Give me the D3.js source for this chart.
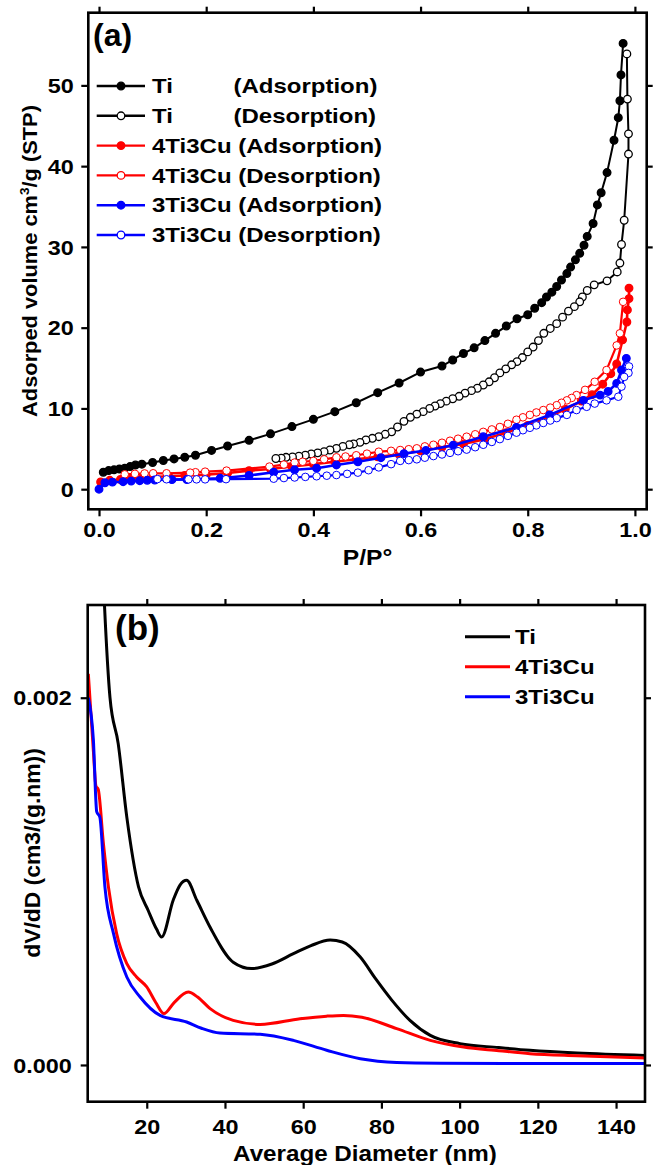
<!DOCTYPE html>
<html><head><meta charset="utf-8">
<script src="https://cdn.jsdelivr.net/npm/d3@7"></script>
<style>
html,body{margin:0;padding:0;background:#fff;}
text{font-family:"Liberation Sans",Arial,sans-serif;font-weight:bold;fill:#000;}
</style></head>
<body>
<svg id="chart" width="654" height="1165"></svg>
<script>
// ---------- Panel (a) data: N2 isotherms ----------
const tiAdsP = [0.008,0.018,0.028,0.038,0.048,0.058,0.068,0.08,0.10,0.12,0.14,0.16,0.18,0.21,0.24,0.28,0.32,0.36,0.40,0.44,0.48,0.52,0.56,0.60,0.64,0.66,0.68,0.70,0.72,0.74,0.76,0.78,0.80,0.813,0.826,0.835,0.845,0.854,0.863,0.873,0.88,0.889,0.897,0.905,0.911,0.922,0.93,0.937,0.948,0.961,0.969,0.972,0.974,0.978];
const tiAdsV = [2.1,2.3,2.4,2.5,2.6,2.8,3.0,3.1,3.3,3.55,3.75,3.95,4.2,4.8,5.35,6.05,6.85,7.75,8.65,9.6,10.7,11.95,13.15,14.5,15.25,16.0,16.8,17.5,18.4,19.3,20.2,21.1,21.6,22.4,23.1,23.8,24.4,25.1,25.9,26.7,27.5,28.4,29.2,30.2,31.3,32.9,35.2,36.7,39.2,43.2,46.0,48.1,51.3,55.2];
const tiDesP = [0.985,0.986,0.988,0.988,0.98,0.975,0.972,0.967,0.948,0.924,0.911,0.902,0.897,0.887,0.876,0.865,0.854,0.842,0.83,0.82,0.81,0.80,0.79,0.78,0.77,0.759,0.748,0.738,0.728,0.717,0.706,0.695,0.683,0.672,0.66,0.648,0.637,0.627,0.617,0.605,0.593,0.581,0.569,0.557,0.546,0.534,0.522,0.51,0.498,0.487,0.475,0.467,0.455,0.443,0.431,0.42,0.408,0.396,0.385,0.373,0.361,0.349,0.34,0.33];
const tiDesV = [53.9,48.3,44.0,41.5,33.3,30.3,28.0,26.9,25.8,25.3,24.6,23.8,23.2,22.6,22.05,21.3,20.5,19.9,19.3,18.4,17.6,17.0,16.3,15.8,15.4,14.9,14.4,13.8,13.3,12.9,12.5,12.2,11.9,11.5,11.2,10.9,10.6,10.3,10.0,9.6,9.3,8.9,8.4,7.7,7.1,6.8,6.5,6.3,6.1,5.8,5.6,5.5,5.3,5.06,4.85,4.64,4.5,4.36,4.2,4.1,4.0,3.95,3.85,3.8];
const cu4AdsP = [0.003,0.02,0.04,0.06,0.08,0.10,0.13,0.16,0.20,0.24,0.28,0.32,0.36,0.40,0.44,0.48,0.52,0.56,0.60,0.64,0.68,0.72,0.76,0.80,0.84,0.87,0.90,0.92,0.94,0.955,0.966,0.977,0.985,0.986,0.989,0.989];
const cu4AdsV = [0.9,1.1,1.2,1.3,1.4,1.5,1.6,1.7,1.8,2.0,2.3,2.5,2.8,3.1,3.4,3.7,4.0,4.3,4.75,5.2,5.6,6.2,7.0,7.9,9.0,9.9,10.9,11.7,13.0,14.3,15.5,18.5,20.7,22.2,23.6,24.9];
const cu4DesP = [0.978,0.972,0.966,0.947,0.925,0.907,0.891,0.882,0.873,0.863,0.854,0.842,0.829,0.816,0.804,0.791,0.779,0.763,0.748,0.733,0.717,0.702,0.686,0.67,0.655,0.64,0.624,0.608,0.593,0.578,0.562,0.545,0.522,0.5,0.48,0.46,0.443,0.42,0.4,0.38,0.365,0.345,0.318,0.238,0.198,0.18,0.17,0.126,0.101,0.085,0.067,0.048];
const cu4DesV = [23.2,19.3,17.8,14.75,13.3,12.3,11.65,11.3,11.0,10.7,10.4,10.1,9.8,9.5,9.2,8.9,8.6,8.1,7.7,7.4,7.1,6.8,6.5,6.25,6.0,5.75,5.5,5.3,5.06,4.95,4.85,4.75,4.64,4.4,4.2,4.05,3.95,3.7,3.5,3.4,3.3,3.05,2.8,2.3,2.17,2.1,2.05,1.97,1.97,1.95,1.9,1.84];
const cu3AdsP = [0.0,0.011,0.025,0.045,0.06,0.076,0.09,0.104,0.136,0.164,0.226,0.28,0.326,0.365,0.406,0.443,0.483,0.526,0.569,0.61,0.661,0.717,0.779,0.841,0.904,0.935,0.95,0.966,0.975,0.984];
const cu3AdsV = [0.0,0.8,0.87,0.93,1.0,1.05,1.1,1.14,1.18,1.2,1.35,1.7,2.1,2.4,2.6,3.0,3.4,3.9,4.4,4.8,5.45,6.5,7.66,9.2,11.0,11.65,12.1,13.1,14.75,16.2];
const cu3DesP = [0.989,0.988,0.98,0.975,0.969,0.947,0.925,0.91,0.891,0.873,0.854,0.842,0.829,0.816,0.804,0.791,0.779,0.763,0.748,0.733,0.717,0.702,0.686,0.67,0.655,0.64,0.624,0.608,0.593,0.578,0.562,0.545,0.522,0.503,0.483,0.463,0.443,0.425,0.406,0.385,0.365,0.345,0.326,0.237,0.198,0.182,0.167,0.126,0.109];
const cu3DesV = [15.2,14.4,13.9,12.7,11.45,11.0,10.6,10.2,9.8,9.2,8.8,8.5,8.2,7.9,7.6,7.3,7.0,6.6,6.2,5.85,5.5,5.2,4.9,4.7,4.5,4.3,4.1,3.9,3.7,3.6,3.5,3.1,2.7,2.35,2.05,1.9,1.75,1.67,1.6,1.52,1.45,1.38,1.3,1.24,1.22,1.22,1.22,1.23,1.25];

const aXTicks = [0,0.2,0.4,0.6,0.8,1.0];
const aYTicks = [0,10,20,30,40,50];
const aLegend = [
  {name:"Ti", kind:"(Adsorption)", color:"#000", filled:true},
  {name:"Ti", kind:"(Desorption)", color:"#000", filled:false},
  {name:"4Ti3Cu", kind:"(Adsorption)", color:"#ff0000", filled:true},
  {name:"4Ti3Cu", kind:"(Desorption)", color:"#ff0000", filled:false},
  {name:"3Ti3Cu", kind:"(Adsorption)", color:"#0000ff", filled:true},
  {name:"3Ti3Cu", kind:"(Desorption)", color:"#0000ff", filled:false}
];

// ---------- Panel (b) data: pore size distribution ----------
const tiDiam = [8.4,9.2,10.6,12.7,14.9,17.9,20.4,22.5,23.8,26.8,28.5,30.2,32.8,36.2,42.1,46.8,52,57.5,62,66.9,70,74.6,78.5,82.7,87.3,92.5,100.1,110,118,130,147.5];
const tiDV   = [0.0029,0.0025,0.002,0.00175,0.00135,0.00097,0.00084,0.00074,0.000697,0.0009,0.00098,0.001006,0.000897,0.00075,0.00056,0.000525,0.00055,0.000606,0.00065,0.00068,0.00067,0.000588,0.00047,0.000352,0.000243,0.000161,0.000116,0.000095,0.00008,0.000065,0.000052];
const cu4Diam = [5.06,6.35,7.0,7.6,8.9,10.2,12.3,14.9,17.4,20,22.3,24.4,27,30.6,33,36.2,42.1,49,59.2,66,70.3,75,83.9,92.5,101,110,118,130,147.5];
const cu4DV   = [0.00213,0.00171,0.00152,0.0015,0.00121,0.00097,0.000715,0.000552,0.000479,0.000425,0.00034,0.00028,0.00034,0.000397,0.00037,0.000307,0.000243,0.000221,0.000252,0.000266,0.00027,0.00026,0.000198,0.000134,0.0000975,0.000078,0.0000616,0.00005,0.0000376];
const cu3Diam = [5.06,6.35,7.2,8.0,9.3,11.5,14.9,18.3,23.4,30.2,34,38.7,49,57.5,66,74.6,83.9,95,120,147.5];
const cu3DV   = [0.002,0.00177,0.00138,0.00135,0.00097,0.000715,0.000479,0.00037,0.00027,0.000234,0.0002,0.000174,0.000167,0.000134,0.00008,0.000034,0.000014,0.00001,0.000008,0.000008];

const bXTicks = [20,40,60,80,100,120,140];
const bYTicks = [0,0.002];
const bLegend = [
  {name:"Ti", color:"#000"},
  {name:"4Ti3Cu", color:"#ff0000"},
  {name:"3Ti3Cu", color:"#0000ff"}
];

// ---------- drawing ----------
const svg = d3.select("#chart");
const SX = 1.17;

function frameAndAxes(g, x, y, xt, yt, xfmt, yfmt, opts){
  const [x0,x1] = x.range(), [y0,y1] = y.range();
  const style = sel => {
    sel.select(".domain").remove();
    sel.selectAll(".tick line").attr("stroke","#000").attr("stroke-width",2.2);
  };
  const ax = g.append("g").attr("transform",`translate(0,${y0})`)
    .call(d3.axisBottom(x).tickValues(xt).tickFormat(xfmt).tickSize(7).tickSizeOuter(0)).call(style);
  ax.selectAll("text").attr("y",opts.xLabY).attr("dy",0).attr("font-size",20)
    .attr("font-family","Liberation Sans, Arial, sans-serif").attr("font-weight","bold")
    .attr("transform",`scale(${SX},1)`);
  const ay = g.append("g").attr("transform",`translate(${x0},0)`)
    .call(d3.axisLeft(y).tickValues(yt).tickFormat(yfmt).tickSize(7).tickSizeOuter(0)).call(style);
  ay.selectAll("text").attr("x",-opts.yLabX/SX).attr("dy","0.36em").attr("font-size",20)
    .attr("font-family","Liberation Sans, Arial, sans-serif").attr("font-weight","bold")
    .attr("transform",`scale(${SX},1)`);
  g.append("g").attr("transform",`translate(0,${y1})`)
    .call(d3.axisTop(x).tickValues(xt).tickFormat("").tickSize(6).tickSizeOuter(0)).call(style);
  g.append("g").attr("transform",`translate(${x1},0)`)
    .call(d3.axisRight(y).tickValues(yt).tickFormat("").tickSize(6).tickSizeOuter(0)).call(style);
  g.append("rect").attr("x",x0).attr("y",y1).attr("width",x1-x0).attr("height",y0-y1)
    .attr("fill","none").attr("stroke","#000").attr("stroke-width",2.6);
}

function stext(g, x, y, str, size, anchor, sx){
  return g.append("text").attr("transform",`translate(${x},${y}) scale(${sx},1)`)
    .attr("text-anchor",anchor||"start").attr("font-size",size).text(str);
}

// ===== Panel (a) =====
const ga = svg.append("g");
const xa = d3.scaleLinear().domain([-0.02,1.022]).range([88.3,646.7]);
const ya = d3.scaleLinear().domain([-2.49,59.0]).range([509.3,12.7]);

const seriesA = [
  {P:tiAdsP, V:tiAdsV, color:"#000", filled:true, lw:2, so:1.4},
  {P:tiDesP, V:tiDesV, color:"#000", filled:false, lw:2, so:1.3},
  {P:cu4AdsP, V:cu4AdsV, color:"#ff0000", filled:true, lw:2.6, so:1.3},
  {P:cu4DesP, V:cu4DesV, color:"#ff0000", filled:false, lw:2.2, so:1.0},
  {P:cu3AdsP, V:cu3AdsV, color:"#0000ff", filled:true, lw:2.6, so:1.3},
  {P:cu3DesP, V:cu3DesV, color:"#0000ff", filled:false, lw:2.2, so:1.0}
];
const lineA = d3.line().x(d=>xa(d[0])).y(d=>ya(d[1]));
seriesA.forEach(s=>{
  const pts = s.P.map((p,i)=>[p,s.V[i]]);
  ga.append("path").datum(pts).attr("d",lineA).attr("fill","none")
    .attr("stroke",s.color).attr("stroke-width",s.lw).attr("stroke-linejoin","round");
  ga.selectAll(null).data(pts).join("circle")
    .attr("cx",d=>xa(d[0])).attr("cy",d=>ya(d[1])).attr("r",3.8)
    .attr("fill",s.filled? s.color : "#fff").attr("stroke",s.color).attr("stroke-width",s.so);
});

frameAndAxes(ga, xa, ya, aXTicks, aYTicks, d3.format(".1f"), d3.format("d"), {xLabY:28, yLabX:14.5});

// axis titles
stext(ga, 367.5, 565, "P/P°", 22, "middle", 1.12);
ga.append("text").attr("transform",`translate(37,261) rotate(-90) scale(1.04,1)`)
  .attr("text-anchor","middle").attr("font-size",21)
  .call(t=>{
    t.append("tspan").text("Adsorped volume cm");
    t.append("tspan").attr("font-size",13).attr("dy",-8).text("3");
    t.append("tspan").attr("dy",8).text("/g (STP)");
  });
ga.append("text").attr("x",93).attr("y",46).attr("font-size",32).text("(a)");

// legend (a)
const legA = ga.append("g");
aLegend.forEach((d,i)=>{
  const cy = 86 + i*29.8;
  legA.append("line").attr("x1",96.7).attr("x2",145).attr("y1",cy).attr("y2",cy)
    .attr("stroke",d.color).attr("stroke-width",2.4);
  legA.append("circle").attr("cx",121).attr("cy",cy).attr("r",3.8)
    .attr("fill",d.filled? d.color : "#fff").attr("stroke",d.color).attr("stroke-width",1.3);
  stext(legA, 152, cy+7.2, d.name, 20, "start", 1.2);
  stext(legA, d.name==="Ti" ? 233.5 : (152 + 0), cy+7.2, d.name==="Ti" ? d.kind : "", 20, "start", 1.2);
  if(d.name!=="Ti"){
    legA.selectAll("text").filter((_,j,n)=>false);
  }
});
// rewrite legend non-Ti rows as one string to keep spacing natural
legA.selectAll("text").remove();
aLegend.forEach((d,i)=>{
  const cy = 86 + i*29.8;
  if(d.name==="Ti"){
    stext(legA, 152, cy+7.2, d.name, 20, "start", 1.2);
    stext(legA, 233.5, cy+7.2, d.kind, 20, "start", 1.2);
  } else {
    stext(legA, 152, cy+7.2, d.name+" "+d.kind, 20, "start", 1.2);
  }
});

// ===== Panel (b) =====
const gb = svg.append("g");
const xb = d3.scaleLinear().domain([4.9,147.4]).range([87.7,645]);
const yb = d3.scaleLinear().domain([-0.0002,0.002505]).range([1101.7,605]);

gb.append("clipPath").attr("id","clipb").append("rect")
  .attr("x",87.7).attr("y",605).attr("width",645-87.7).attr("height",1101.7-605);

const lineB = d3.line().x(d=>xb(d[0])).y(d=>yb(d[1])).curve(d3.curveMonotoneX);
const seriesB = [
  {X:tiDiam, Y:tiDV, color:"#000"},
  {X:cu4Diam, Y:cu4DV, color:"#ff0000"},
  {X:cu3Diam, Y:cu3DV, color:"#0000ff"}
];
seriesB.forEach(s=>{
  gb.append("path").datum(s.X.map((v,i)=>[v,s.Y[i]])).attr("d",lineB)
    .attr("clip-path","url(#clipb)").attr("fill","none").attr("stroke",s.color)
    .attr("stroke-width",3).attr("stroke-linejoin","round");
});

frameAndAxes(gb, xb, yb, bXTicks, bYTicks, d3.format("d"), d3.format(".3f"), {xLabY:32, yLabX:16});

stext(gb, 365, 1161, "Average Diameter (nm)", 22, "middle", 1.1);
gb.append("text").attr("transform",`translate(40,853) rotate(-90) scale(1.04,1)`)
  .attr("text-anchor","middle").attr("font-size",22).text("dV/dD (cm3/(g.nm))");
gb.append("text").attr("x",115).attr("y",640).attr("font-size",35).text("(b)");

bLegend.forEach((d,i)=>{
  const cy = 636.7 + i*30;
  gb.append("line").attr("x1",465).attr("x2",510).attr("y1",cy).attr("y2",cy)
    .attr("stroke",d.color).attr("stroke-width",3);
  stext(gb, 515, cy+7, d.name, 20, "start", 1.2);
});
</script>
</body></html>
